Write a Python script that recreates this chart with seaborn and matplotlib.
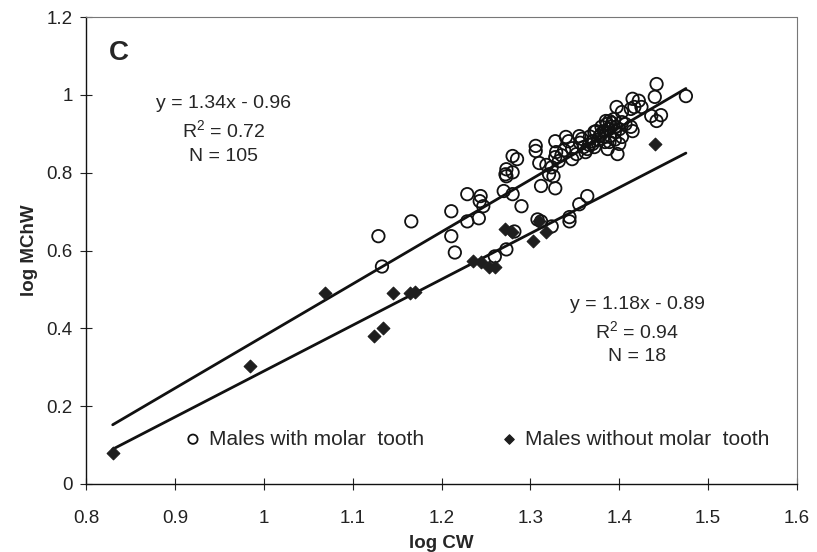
import numpy as np
import pandas as pd
import matplotlib
matplotlib.use("Agg")
import matplotlib.pyplot as plt
import seaborn as sns
from matplotlib.ticker import FuncFormatter, FixedLocator

# ---- data ----
with_x = [1.129, 1.133, 1.166, 1.211, 1.211, 1.215, 1.229, 1.229, 1.242, 1.244,
          1.243, 1.247, 1.260, 1.273, 1.270, 1.272, 1.273, 1.273, 1.280, 1.280,
          1.285, 1.280, 1.290, 1.282, 1.306, 1.306, 1.310, 1.312, 1.308, 1.312,
          1.321, 1.324, 1.326, 1.328, 1.324, 1.328, 1.329, 1.328, 1.340, 1.343,
          1.347, 1.347, 1.344, 1.344, 1.355, 1.358, 1.364, 1.355, 1.364, 1.370,
          1.374, 1.372, 1.380, 1.383, 1.385, 1.384, 1.442, 1.440, 1.475, 1.415,
          1.422, 1.417, 1.425, 1.413, 1.436, 1.447, 1.442, 1.403, 1.397, 1.394,
          1.389, 1.403, 1.413, 1.415, 1.400, 1.391, 1.383, 1.378, 1.372, 1.403,
          1.400, 1.389, 1.398, 1.370, 1.387, 1.352, 1.362, 1.332, 1.386, 1.392,
          1.388, 1.395, 1.380, 1.390, 1.376, 1.366, 1.360, 1.356, 1.338, 1.335,
          1.318, 1.396, 1.407, 1.395, 1.367]
with_y = [0.637, 0.559, 0.675, 0.701, 0.637, 0.595, 0.745, 0.675, 0.683, 0.740,
          0.727, 0.714, 0.585, 0.603, 0.753, 0.796, 0.809, 0.791, 0.801, 0.843,
          0.835, 0.745, 0.714, 0.649, 0.869, 0.856, 0.825, 0.766, 0.680, 0.675,
          0.796, 0.814, 0.791, 0.760, 0.662, 0.881, 0.853, 0.840, 0.892, 0.881,
          0.863, 0.835, 0.686, 0.675, 0.894, 0.887, 0.861, 0.719, 0.740, 0.881,
          0.907, 0.866, 0.918, 0.894, 0.933, 0.879, 1.028, 0.995, 0.997, 0.990,
          0.985, 0.969, 0.969, 0.964, 0.946, 0.948, 0.933, 0.956, 0.969, 0.938,
          0.933, 0.930, 0.918, 0.907, 0.912, 0.918, 0.907, 0.894, 0.905, 0.892,
          0.874, 0.879, 0.848, 0.874, 0.861, 0.848, 0.853, 0.830, 0.925, 0.928,
          0.912, 0.905, 0.900, 0.895, 0.885, 0.872, 0.866, 0.877, 0.858, 0.845,
          0.820, 0.918, 0.925, 0.885, 0.893]

without_x = [0.830, 0.985, 1.069, 1.124, 1.134, 1.145, 1.165, 1.170, 1.235, 1.244,
             1.254, 1.260, 1.271, 1.279, 1.303, 1.310, 1.318, 1.440]
without_y = [0.080, 0.304, 0.492, 0.381, 0.402, 0.492, 0.492, 0.494, 0.572, 0.570,
             0.557, 0.557, 0.655, 0.647, 0.624, 0.675, 0.647, 0.874]

fit_labels = ["with", "without"]
fit_slope = [1.34, 1.18]
fit_intercept = [-0.96, -0.89]
fit_xrange = [0.83, 1.475]
eq_texts = ["y = 1.34x - 0.96\nR$^2$ = 0.72\nN = 105",
            "y = 1.18x - 0.89\nR$^2$ = 0.94\nN = 18"]

x_ticks = [0.8, 0.9, 1.0, 1.1, 1.2, 1.3, 1.4, 1.5, 1.6]
y_ticks = [0, 0.2, 0.4, 0.6, 0.8, 1.0, 1.2]

# ---- style ----
sns.set_style("ticks")
plt.rcParams["font.family"] = ["Liberation Sans", "DejaVu Sans"]
plt.rcParams["mathtext.fontset"] = "custom"
plt.rcParams["mathtext.rm"] = "Liberation Sans"

fig = plt.figure(figsize=(8.17, 5.52), dpi=100)
ax = fig.add_axes([0.1053, 0.1232, 0.8702, 0.8458])

df_with = pd.DataFrame({"x": with_x, "y": with_y})
df_without = pd.DataFrame({"x": without_x, "y": without_y})

# regression lines
rows = []
for lab, m, b in zip(fit_labels, fit_slope, fit_intercept):
    for xv in fit_xrange:
        rows.append({"x": xv, "y": m * xv + b, "grp": lab})
df_fit = pd.DataFrame(rows)
for lab in fit_labels:
    sns.lineplot(data=df_fit[df_fit.grp == lab], x="x", y="y", color="#111111",
                 lw=2.0, ax=ax, legend=False, zorder=2)

sns.scatterplot(data=df_with, x="x", y="y", marker="o", s=80,
                facecolors="none", edgecolor="#111111", linewidth=1.3,
                ax=ax, label="Males with molar  tooth", zorder=3)
sns.scatterplot(data=df_without, x="x", y="y", marker="D", s=42,
                color="#1e1e1e", edgecolor="#1e1e1e", linewidth=0.8,
                ax=ax, label="Males without molar  tooth", zorder=4)

ax.set_xlim(0.8, 1.6)
ax.set_ylim(0, 1.2)
ax.xaxis.set_major_locator(FixedLocator(x_ticks))
ax.yaxis.set_major_locator(FixedLocator(y_ticks))
fmt = FuncFormatter(lambda v, p: f"{v:g}")
ax.xaxis.set_major_formatter(fmt)
ax.yaxis.set_major_formatter(fmt)
ax.tick_params(direction="inout", length=9, width=0.8, labelsize=13.5,
               colors="#222222")
ax.tick_params(axis="x", pad=14)
ax.tick_params(axis="y", pad=5)

for s in ["left", "bottom"]:
    ax.spines[s].set_color("#111111")
    ax.spines[s].set_linewidth(1.0)
for s in ["top", "right"]:
    ax.spines[s].set_visible(True)
    ax.spines[s].set_color("#777777")
    ax.spines[s].set_linewidth(0.8)
    ax.spines[s].set_linestyle((0, (1, 1)))

ax.set_xlabel("log CW", fontsize=13.5, fontweight="bold", labelpad=6)
ax.set_ylabel("log MChW", fontsize=13.5, fontweight="bold", labelpad=6)

ax.text(0.032, 0.924, "C", transform=ax.transAxes, fontsize=20,
        fontweight="bold", ha="left", va="center")
ax.text(0.194, 0.758, eq_texts[0], transform=ax.transAxes, fontsize=14,
        ha="center", va="center", linespacing=1.4, multialignment="center")
ax.text(0.775, 0.328, eq_texts[1], transform=ax.transAxes, fontsize=14,
        ha="center", va="center", linespacing=1.4, multialignment="center")

leg = ax.legend(loc="center left", bbox_to_anchor=(0.124, 0.096), ncol=2,
                frameon=False, fontsize=15, handlelength=0.8,
                handletextpad=0.35, columnspacing=3.7, borderpad=0,
                markerscale=0.75)

fig.savefig("out.png", dpi=100)
